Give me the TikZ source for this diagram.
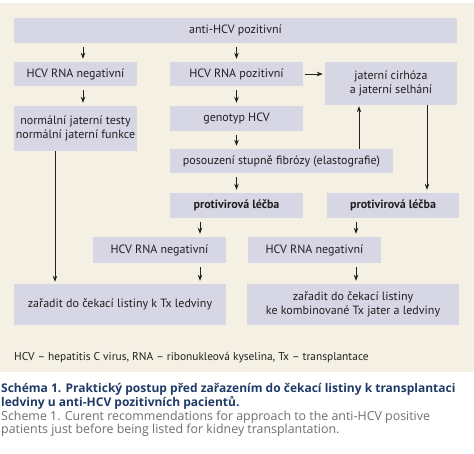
\documentclass[tikz,border=0pt]{standalone}
\usepackage{fontspec}
\setmainfont{PT Sans}
\newfontfamily\capfont{Open Sans}
\usetikzlibrary{arrows.meta, positioning}
\definecolor{paperbeige}{HTML}{F4F0E4}
\definecolor{boxlilac}{HTML}{D6D6E4}
\definecolor{inkgrey}{HTML}{231F20}
\definecolor{captionblue}{HTML}{1E3A66}
\definecolor{captiongrey}{HTML}{6E6E6E}

\tikzset{
  stepbox/.style={rectangle, fill=boxlilac, inner sep=0pt, align=center, text=inkgrey, font=\fontsize{12}{14.5}\selectfont},
  boldbox/.style={stepbox, font=\fontsize{12}{14.5}\selectfont\bfseries},
  arr/.style={-{Stealth[length=6pt, width=4.5pt]}, draw=inkgrey, line width=0.75pt},
}

\begin{document}
\begin{tikzpicture}[x=1pt, y=-1pt]
\useasboundingbox (0,0) rectangle (474,453);
% Background panel
\fill[paperbeige] (0,3) rectangle (474,372);

% Top box
\node[stepbox, minimum width=443pt, minimum height=25pt] (antihcv) at (235.5,30.5) {anti-HCV pozitivní};

% Second row
\node[stepbox, minimum width=123pt, minimum height=24pt] (rnaneg) at (75.5,74) {HCV RNA negativní};
\node[stepbox, minimum width=133pt, minimum height=24pt] (rnapos) at (236.5,74) {HCV RNA pozitivní};
\node[stepbox, minimum width=132pt, minimum height=43pt] (cirhoza) at (391,83.5) {jaterní cirhóza\\a jaterní selhání};

% Third row
\node[stepbox, minimum width=123pt, minimum height=45pt] (normal) at (75.5,128.5) {normální jaterní testy\\normální jaterní funkce};
\node[stepbox, minimum width=133pt, minimum height=25pt] (genotyp) at (236.5,118.5) {genotyp HCV};

% Fibrosis assessment
\node[stepbox, minimum width=223pt, minimum height=24pt] (fibroza) at (281.5,161) {posouzení stupně fibrózy (elastografie)};

% Antiviral treatment
\node[boldbox, minimum width=133pt, minimum height=25pt] (lecbaL) at (236.5,205.5) {protivirová léčba};
\node[boldbox, minimum width=132pt, minimum height=25pt] (lecbaR) at (393,205.5) {protivirová léčba};

% RNA negative after treatment
\node[stepbox, minimum width=133pt, minimum height=26pt] (negL) at (159.5,250) {HCV RNA negativní};
\node[stepbox, minimum width=133pt, minimum height=26pt] (negR) at (314.5,250) {HCV RNA negativní};

% Waiting list boxes
\node[stepbox, minimum width=212pt, minimum height=41pt] (listL) at (120,304.5) {zařadit do čekací listiny k Tx ledviny};
\node[stepbox, minimum width=212pt, minimum height=41pt] (listR) at (353,304.5) {zařadit do čekací listiny\\ke kombinované Tx jater a ledviny};

% Arrows
\draw[arr, shorten <=4pt, shorten >=3pt] ([xshift=7.5pt]rnaneg.north |- antihcv.south) -- ([xshift=7.5pt]rnaneg.north);
\draw[arr, shorten <=4pt, shorten >=3pt] (rnapos.north |- antihcv.south) -- (rnapos.north);
\draw[arr, shorten <=2pt, shorten >=2pt] (rnapos.east) -- (rnapos.east -| cirhoza.west);
\draw[arr, shorten <=4pt, shorten >=3pt] ([xshift=7.5pt]rnaneg.south) -- ([xshift=7.5pt]rnaneg.south |- normal.north);
\draw[arr, shorten <=4pt, shorten >=3pt] (rnapos.south) -- (genotyp.north);
\draw[arr, shorten <=4pt, shorten >=3pt] (genotyp.south) -- (genotyp.south |- fibroza.north);
\draw[arr, shorten >=1pt] ([xshift=-32pt]cirhoza.south |- fibroza.north) -- ([xshift=-32pt]cirhoza.south);
\draw[arr, shorten >=3pt] ([xshift=36pt]cirhoza.south) -- ([xshift=36pt]cirhoza.south |- lecbaR.north);
\draw[arr, shorten <=4pt, shorten >=3pt] (lecbaL.north |- fibroza.south) -- (lecbaL.north);
\draw[arr, shorten >=2pt] ([xshift=-20.5pt]normal.south) -- ([xshift=-20.5pt]normal.south |- listL.north);
\draw[arr, shorten <=4pt, shorten >=3pt] ([xshift=40.5pt]negL.north |- lecbaL.south) -- ([xshift=40.5pt]negL.north);
\draw[arr, shorten <=4pt, shorten >=3pt] ([xshift=40.5pt]negL.south) -- ([xshift=40.5pt]negL.south |- listL.north);
\draw[arr, shorten <=4pt, shorten >=3pt] ([xshift=41.5pt]negR.north |- lecbaR.south) -- ([xshift=41.5pt]negR.north);
\draw[arr, shorten <=4pt, shorten >=3pt] ([xshift=41.5pt]negR.south) -- ([xshift=41.5pt]negR.south |- listR.north);

% Legend and caption
\node[anchor=west, inner sep=0pt, text=inkgrey, font=\fontsize{11.4}{13}\selectfont] (legend) at (14,358) {HCV – hepatitis C virus, RNA – ribonukleová kyselina, Tx – transplantace};
\node[anchor=north west, inner sep=0pt, align=left, text=captionblue, font=\capfont\fontsize{12}{14}\selectfont\bfseries] (captioncz) at (1,383) {Schéma 1. Praktický postup před zařazením do čekací listiny k transplantaci\\ledviny u anti-HCV pozitivních pacientů.};
\node[anchor=north west, inner sep=0pt, align=left, text=captiongrey, font=\capfont\fontsize{12.4}{13.5}\selectfont] (captionen) at ([yshift=-1pt]captioncz.south west) {Scheme 1. Curent recommendations for approach to the anti-HCV positive\\patients just before being listed for kidney transplantation.};
\end{tikzpicture}
\end{document}
